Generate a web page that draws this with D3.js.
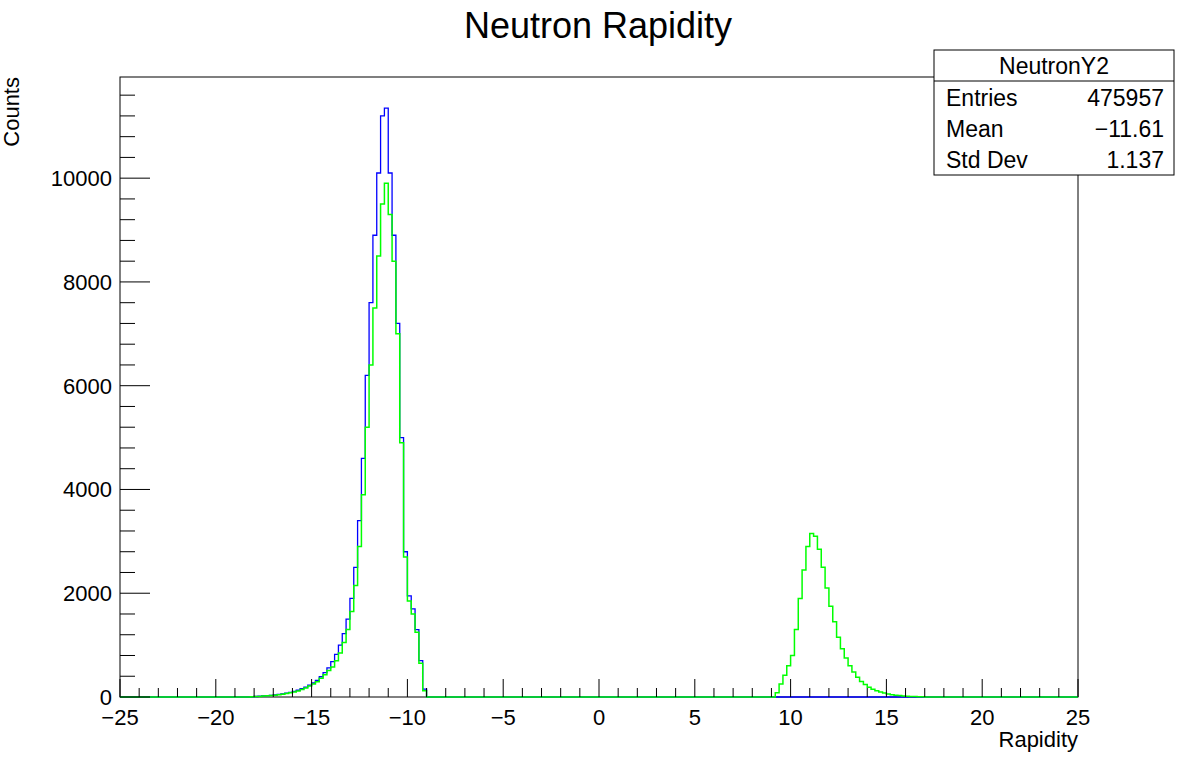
<!DOCTYPE html>
<html><head><meta charset="utf-8">
<script src="https://cdn.jsdelivr.net/npm/d3@7"></script>
<style>body{margin:0;background:#fff}svg{font-family:"Liberation Sans",Arial,sans-serif}</style>
</head><body><svg id="c" width="1198" height="774"></svg>
<script>
// bin width 0.2
var binWidth = 0.2;
var blueStart = -19.0;
var blueCounts = [0,0,0,0,5, 10,15,20,25,30, 40,50,60,75,90, 110,130,160,190,230,
  270,320,390,470,560, 680,820,1000,1220,1500, 1900,2500,3400,4600,6200,
  7600,8900,10100,11200,11350, 10100,8900,7200,5000,2800, 1950,1700,1300,700,150];
var greenLeftStart = -19.0;
var greenLeftCounts = [0,0,0,0,4, 8,12,17,22,27, 35,44,54,66,80, 98,118,145,172,210,
  250,295,360,430,510, 580,700,850,1050,1300, 1650,2150,2900,3900,5200,
  6400,7500,8500,9500,9900, 9300,8400,7000,4900,2700, 1850,1600,1250,650,120];
var greenRightStart = 9.0;
var greenRightCounts = [0,80,250,420,600, 800,1300,1900,2450,2900, 3150,3100,2850,2500,2100,
  1750,1450,1150,930,750, 600,480,380,300,240, 190,150,120,95,75,
  60,45,35,28,20, 15,10,8,5,3];
var stats = [["Entries","475957"],["Mean","\u221211.61"],["Std Dev","1.137"]];

var svg = d3.select("#c");
var L=120,R=1078,T=77,B=697;
var x = d3.scaleLinear().domain([-25,25]).range([L,R]);
var y = d3.scaleLinear().domain([0,11950]).range([B,T]);

function steps(start, counts){
  var pts=[[-25,0],[start,0]];
  counts.forEach(function(c,i){var a=start+i*binWidth;pts.push([a,c],[a+binWidth,c]);});
  pts.push([start+counts.length*binWidth,0]);
  return pts;
}
var line = d3.line().x(function(d){return x(d[0]);}).y(function(d){return y(d[1]);});
var bluePts = steps(blueStart, blueCounts).concat([[25,0]]);
var greenPts = steps(greenLeftStart, greenLeftCounts).concat(steps(greenRightStart, greenRightCounts).slice(1)).concat([[25,0]]);

svg.append("rect").attr("x",L).attr("y",T).attr("width",R-L).attr("height",B-T).attr("fill","none").attr("stroke","#000");
svg.append("path").attr("d",line(bluePts)).attr("fill","none").attr("stroke","#0000ff").attr("stroke-width",1.3);
svg.append("path").attr("d",line(greenPts)).attr("fill","none").attr("stroke","#00ff00").attr("stroke-width",1.5);

// ticks
var g=svg.append("g").attr("stroke","#000");
d3.range(-25,26,1).forEach(function(v){
  var len = v%5===0?18:9;
  g.append("line").attr("x1",x(v)).attr("x2",x(v)).attr("y1",B).attr("y2",B-len);
});
d3.range(0,11950,400).forEach(function(v){
  var len = v%2000===0?30:15;
  g.append("line").attr("x1",L).attr("x2",L+len).attr("y1",y(v)).attr("y2",y(v));
});
x.ticks(10).forEach(function(v){
  svg.append("text").attr("x",x(v)).attr("y",B+28).attr("text-anchor","middle").attr("font-size",22)
    .text(v<0?"\u2212"+(-v):v);
});
d3.range(0,11000,2000).forEach(function(v){
  svg.append("text").attr("x",L-8).attr("y",y(v)+8).attr("text-anchor","end").attr("font-size",22).text(v);
});
svg.append("text").attr("x",598).attr("y",38).attr("text-anchor","middle").attr("font-size",36).text("Neutron Rapidity");
svg.append("text").attr("x",R).attr("y",747).attr("text-anchor","end").attr("font-size",22).text("Rapidity");
svg.append("text").attr("transform","translate(19,77) rotate(-90)").attr("text-anchor","end").attr("font-size",22).text("Counts");

// stats box
var bx=934,by=50,bw=240,bh=125;
svg.append("rect").attr("x",bx).attr("y",by).attr("width",bw).attr("height",bh).attr("fill","#fff").attr("stroke","#000");
svg.append("line").attr("x1",bx).attr("x2",bx+bw).attr("y1",by+31).attr("y2",by+31).attr("stroke","#000");
svg.append("text").attr("x",bx+bw/2).attr("y",by+24).attr("text-anchor","middle").attr("font-size",23).text("NeutronY2");
stats.forEach(function(s,i){
  var yy=by+56+i*31;
  svg.append("text").attr("x",bx+12).attr("y",yy).attr("font-size",23).text(s[0]);
  svg.append("text").attr("x",bx+bw-10).attr("y",yy).attr("text-anchor","end").attr("font-size",23).text(s[1]);
});
</script></body></html>
